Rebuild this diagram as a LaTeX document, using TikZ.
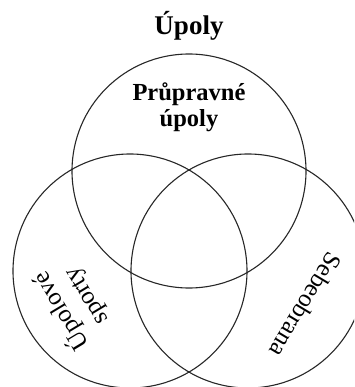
\documentclass[tikz,border=0pt]{standalone}
\usepackage{fontspec}
\setmainfont{Liberation Serif}
\begin{document}
\begin{tikzpicture}[x=1pt,y=-1pt,
  ring/.style={draw=black!85,line width=1.1pt},
  lbl/.style={font=\fontsize{24.5}{26}\selectfont\bfseries,align=center,inner sep=0pt},
  side/.style={font=\fontsize{25}{29}\selectfont,align=center,inner sep=0pt}]
\useasboundingbox (0,0) rectangle (354,387);
\clip (0,0) rectangle (354,387);
\node[font=\fontsize{27}{27}\selectfont\bfseries,inner sep=0pt] (title) at (189,26) {Úpoly};
\draw[ring] (189,171) circle (117);
\draw[ring] (130,271) circle (117);
\draw[ring] (248,271) circle (117);
\node[lbl] (top) at (189,107) {Průpravné\\úpoly};
\node[side,rotate=121] (left) at (73,304) {Úpolové\\sporty};
\node[side,rotate=239] (right) at (306,305) {Sebeobrana};
\end{tikzpicture}
\end{document}
